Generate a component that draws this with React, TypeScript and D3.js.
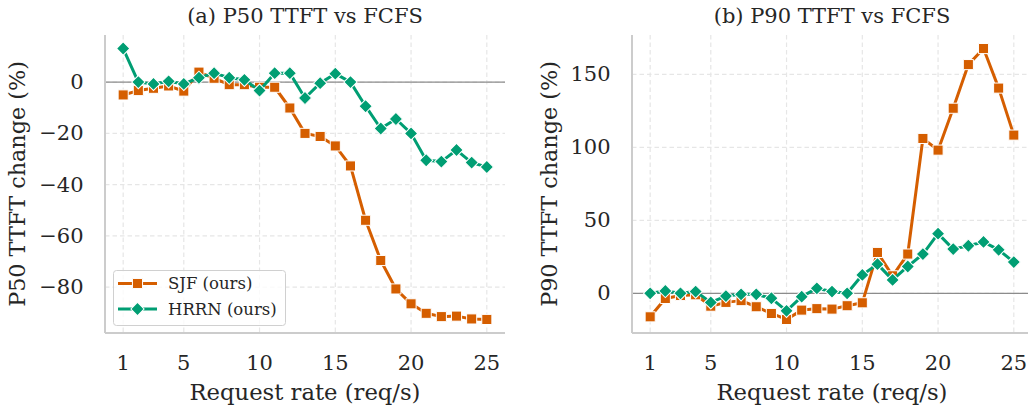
import React from 'react';
import * as d3 from 'd3';

// request rates (req/s)
const rates = [1, 2, 3, 4, 5, 6, 7, 8, 9, 10, 11, 12, 13, 14, 15, 16, 17, 18, 19, 20, 21, 22, 23, 24, 25];
const xTicks = [1, 5, 10, 15, 20, 25];

// (a) P50 TTFT change vs FCFS (%)
const sjfP50 = [-5.0, -3.3, -2.4, -1.5, -3.5, 3.9, 1.5, -1.0, -1.0, -2.0, -2.0, -10.1, -20.0, -21.2, -24.9, -32.7, -53.9, -69.6, -80.7, -86.5, -90.2, -91.5, -91.3, -92.4, -92.6];
const hrrnP50 = [13.1, 0.0, -0.7, 0.3, -0.7, 1.7, 3.5, 1.7, 0.9, -3.3, 3.5, 3.5, -6.2, -0.4, 3.3, 0.0, -9.4, -18.1, -14.4, -20.0, -30.5, -31.0, -26.5, -31.4, -33.1];
const p50Ticks = [-80, -60, -40, -20, 0];

// (b) P90 TTFT change vs FCFS (%)
const sjfP90 = [-16.1, -3.5, -1.5, -1.0, -8.8, -6.2, -5.0, -9.2, -13.8, -17.9, -11.5, -10.5, -10.8, -8.5, -6.5, 28.0, 12.0, 26.9, 106.1, 98.1, 126.8, 156.7, 167.7, 140.6, 108.4];
const hrrnP90 = [0.0, 1.6, 0.0, 1.2, -6.2, -1.9, -0.7, -0.7, -3.4, -12.0, -2.3, 3.4, 1.2, 0.0, 12.6, 20.0, 9.2, 18.4, 26.9, 40.9, 30.3, 32.6, 35.2, 29.8, 21.4];
const p90Ticks = [0, 50, 100, 150];

const ORANGE = '#d55e00';
const GREEN = '#009e73';
const TEXT = '#262626';
const FONT = '"DejaVu Serif", serif';

const top = 35;
const bottom = 333;

type Series = { name: string; values: number[]; color: string; shape: 'square' | 'diamond' };

const marker = (shape: string) =>
  shape === 'square'
    ? d3.symbol(d3.symbolSquare, 102)()
    : d3.symbol(d3.symbolSquare, 88)();

function Panel({ left, right, title, ylabel, ylabelX, yTicks, series, legend }: {
  left: number; right: number; title: string; ylabel: string; ylabelX: number;
  yTicks: number[]; series: Series[]; legend?: boolean;
}) {
  const x = d3.scaleLinear().domain([-0.2, 26.2]).range([left, right]);
  const all = series.flatMap((s) => s.values);
  const [lo, hi] = d3.extent(all) as [number, number];
  const pad = (hi - lo) * 0.05;
  const y = d3.scaleLinear().domain([lo - pad, hi + pad]).range([bottom, top]);
  const line = d3.line<number>().x((_, i) => x(rates[i])).y((d) => y(d));
  const cx = (left + right) / 2;

  return (
    <g fontFamily={FONT} fill={TEXT}>
      {/* grid */}
      {xTicks.map((t) => (
        <line key={'gx' + t} x1={x(t)} x2={x(t)} y1={top} y2={bottom} stroke="#e6e6e6" strokeWidth={1.2} strokeDasharray="4.5,3" />
      ))}
      {yTicks.map((t) => (
        <line key={'gy' + t} x1={left} x2={right} y1={y(t)} y2={y(t)} stroke="#e6e6e6" strokeWidth={1.2} strokeDasharray="4.5,3" />
      ))}
      {/* zero line */}
      <line x1={left} x2={right} y1={y(0)} y2={y(0)} stroke="#8c8c8c" strokeWidth={1.3} />
      {/* spines */}
      <line x1={left} x2={left} y1={top} y2={bottom} stroke="#cccccc" strokeWidth={2} />
      <line x1={left} x2={right} y1={bottom} y2={bottom} stroke="#cccccc" strokeWidth={2} />

      {series.map((s) => (
        <g key={s.name}>
          <path d={line(s.values) || ''} fill="none" stroke={s.color} strokeWidth={3} strokeLinejoin="round" />
          {s.values.map((v, i) => (
            <path
              key={i}
              d={marker(s.shape) || ''}
              transform={`translate(${x(rates[i])},${y(v)})${s.shape === 'diamond' ? ' rotate(45)' : ''}`}
              fill={s.color}
              stroke="#fff"
              strokeWidth={1}
            />
          ))}
        </g>
      ))}

      {/* ticks */}
      {xTicks.map((t) => (
        <text key={'tx' + t} x={x(t)} y={370} textAnchor="middle" fontSize={21}>{t}</text>
      ))}
      {yTicks.map((t) => (
        <text key={'ty' + t} x={left - 21.5} y={y(t)} textAnchor="end" dominantBaseline="central" fontSize={21}>
          {t < 0 ? '\u2212' + Math.abs(t) : t}
        </text>
      ))}

      <text x={cx} y={23} textAnchor="middle" fontSize={21}>{title}</text>
      <text x={cx} y={400} textAnchor="middle" fontSize={22.7}>Request rate (req/s)</text>
      <text transform={`translate(${ylabelX},${(top + bottom) / 2}) rotate(-90)`} textAnchor="middle" fontSize={22.3}>{ylabel}</text>

      {legend && (
        <g>
          <rect x={113.5} y={270.5} width={172} height={55} rx={3} fill="#fff" fillOpacity={0.8} stroke="#d0d0d0" strokeWidth={1} />
          {series.map((s, i) => {
            const ly = 283.5 + i * 25.5;
            return (
              <g key={s.name}>
                <line x1={118} x2={157} y1={ly} y2={ly} stroke={s.color} strokeWidth={3} />
                <path d={marker(s.shape) || ''} transform={`translate(137.5,${ly})${s.shape === 'diamond' ? ' rotate(45)' : ''}`} fill={s.color} stroke="#fff" strokeWidth={1} />
                <text x={168} y={ly} dominantBaseline="central" fontSize={16.5}>{s.name}</text>
              </g>
            );
          })}
        </g>
      )}
    </g>
  );
}

export default function App() {
  return (
    <svg width={1028} height={406} style={{ position: 'absolute', left: 0, top: 0, background: '#fff' }}>
      <Panel
        left={105}
        right={505}
        title="(a) P50 TTFT vs FCFS"
        ylabel="P50 TTFT change (%)"
        ylabelX={25}
        yTicks={p50Ticks}
        legend
        series={[
          { name: 'SJF (ours)', values: sjfP50, color: ORANGE, shape: 'square' },
          { name: 'HRRN (ours)', values: hrrnP50, color: GREEN, shape: 'diamond' },
        ]}
      />
      <Panel
        left={632}
        right={1032}
        title="(b) P90 TTFT vs FCFS"
        ylabel="P90 TTFT change (%)"
        ylabelX={556.5}
        yTicks={p90Ticks}
        series={[
          { name: 'SJF (ours)', values: sjfP90, color: ORANGE, shape: 'square' },
          { name: 'HRRN (ours)', values: hrrnP90, color: GREEN, shape: 'diamond' },
        ]}
      />
    </svg>
  );
}
